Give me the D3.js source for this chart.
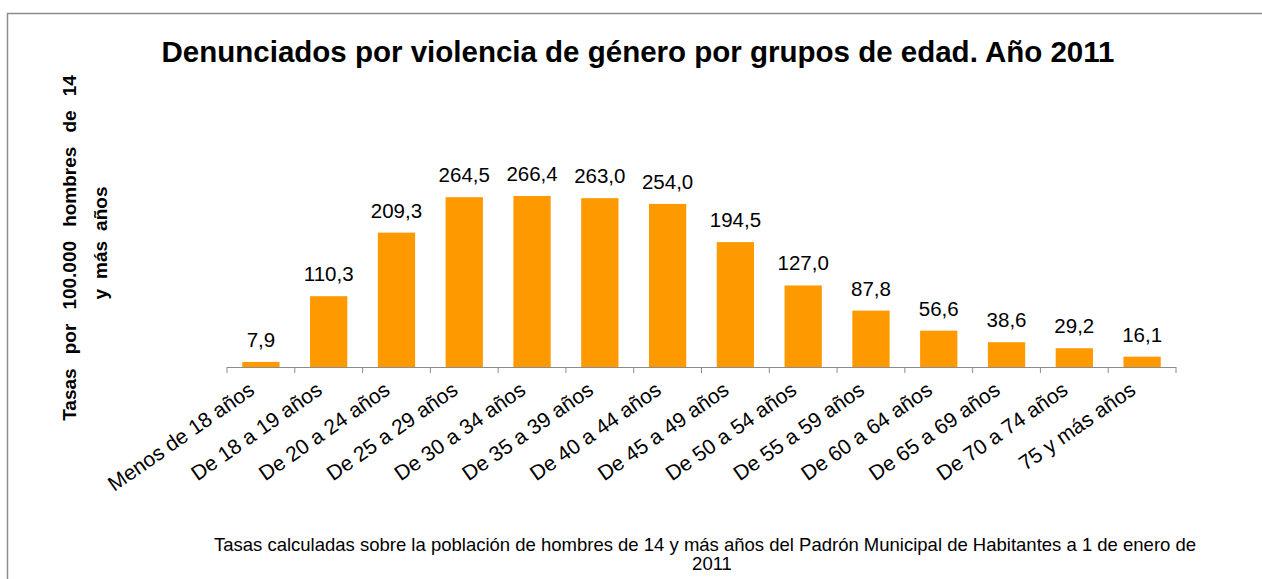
<!DOCTYPE html>
<html><head><meta charset="utf-8">
<script src="https://cdn.jsdelivr.net/npm/d3@7"></script>
<style>body{margin:0;background:#fff}svg{display:block;font-family:"Liberation Sans",Arial,sans-serif}</style>
</head><body><svg id="c" width="1262" height="579"></svg>
<script>
const categories = ["Menos de 18 años","De 18 a 19 años","De 20 a 24 años","De 25 a 29 años","De 30 a 34 años","De 35 a 39 años","De 40 a 44 años","De 45 a 49 años","De 50 a 54 años","De 55 a 59 años","De 60 a 64 años","De 65 a 69 años","De 70 a 74 años","75 y más años"];
const values = [7.9,110.3,209.3,264.5,266.4,263.0,254.0,194.5,127.0,87.8,56.6,38.6,29.2,16.1];
const valueLabels = ["7,9","110,3","209,3","264,5","266,4","263,0","254,0","194,5","127,0","87,8","56,6","38,6","29,2","16,1"];
const title = "Denunciados por violencia de género por grupos de edad. Año 2011";
const yTitle = ["Tasas por 100.000 hombres de 14","y más años"];
const footnote = ["Tasas calculadas sobre la población de hombres de 14 y más años del Padrón Municipal de Habitantes a 1 de enero de","2011"];

const svg = d3.select("#c");
svg.append("rect").attr("x",7.5).attr("y",13.5).attr("width",1270).attr("height",600)
  .attr("fill","none").attr("stroke","#8c8c8c").attr("stroke-width",1.5);

const x0 = 227, x1 = 1176, base = 367;
const x = d3.scaleBand().domain(categories).range([x0,x1]).paddingInner(0.45).paddingOuter(0.225);
const y = d3.scaleLinear().domain([0,300]).range([base, base-300*0.642]);

svg.append("text").attr("x",638).attr("y",62).attr("text-anchor","middle")
  .attr("font-weight","bold").attr("font-size",29.5).text(title);

svg.selectAll("rect.bar").data(values).join("rect").attr("class","bar")
  .attr("x",(d,i)=>x(categories[i])).attr("width",x.bandwidth())
  .attr("y",d=>y(d)).attr("height",d=>base-y(d)).attr("fill","#ff9900");

svg.selectAll("text.val").data(values).join("text").attr("class","val")
  .attr("x",(d,i)=>x(categories[i])+x.bandwidth()/2).attr("y",d=>y(d)-15)
  .attr("text-anchor","middle").attr("font-size",20.5).attr("fill","#000")
  .text((d,i)=>valueLabels[i]);

const bounds = d3.range(categories.length+1).map(i=>x0+i*(x1-x0)/categories.length);
svg.append("line").attr("x1",x0).attr("x2",x1).attr("y1",base+0.5).attr("y2",base+0.5).attr("stroke","#8c8c8c").attr("stroke-width",1);
svg.selectAll("line.tick").data(bounds).join("line").attr("class","tick")
  .attr("x1",d=>d).attr("x2",d=>d).attr("y1",base).attr("y2",base+6).attr("stroke","#8c8c8c");

svg.selectAll("text.cat").data(categories).join("text").attr("class","cat")
  .attr("transform",d=>`translate(${x(d)+x.bandwidth()/2-5},${base+26}) rotate(-35)`)
  .attr("text-anchor","end").attr("font-size",21).attr("fill","#000").text(d=>d);

svg.append("text").attr("transform","translate(76,248) rotate(-90)")
  .attr("text-anchor","middle").attr("font-weight","bold").attr("font-size",19)
  .attr("word-spacing",8.8).text(yTitle[0]);
svg.append("text").attr("transform","translate(107,243) rotate(-90)")
  .attr("text-anchor","middle").attr("font-weight","bold").attr("font-size",19)
  .attr("word-spacing",4.7).text(yTitle[1]);

svg.selectAll("text.foot").data(footnote).join("text").attr("class","foot")
  .attr("x",(d,i)=>i===0?705:712).attr("y",(d,i)=>551+i*19).attr("text-anchor","middle").attr("font-size",18.5).text(d=>d);
</script></body></html>
